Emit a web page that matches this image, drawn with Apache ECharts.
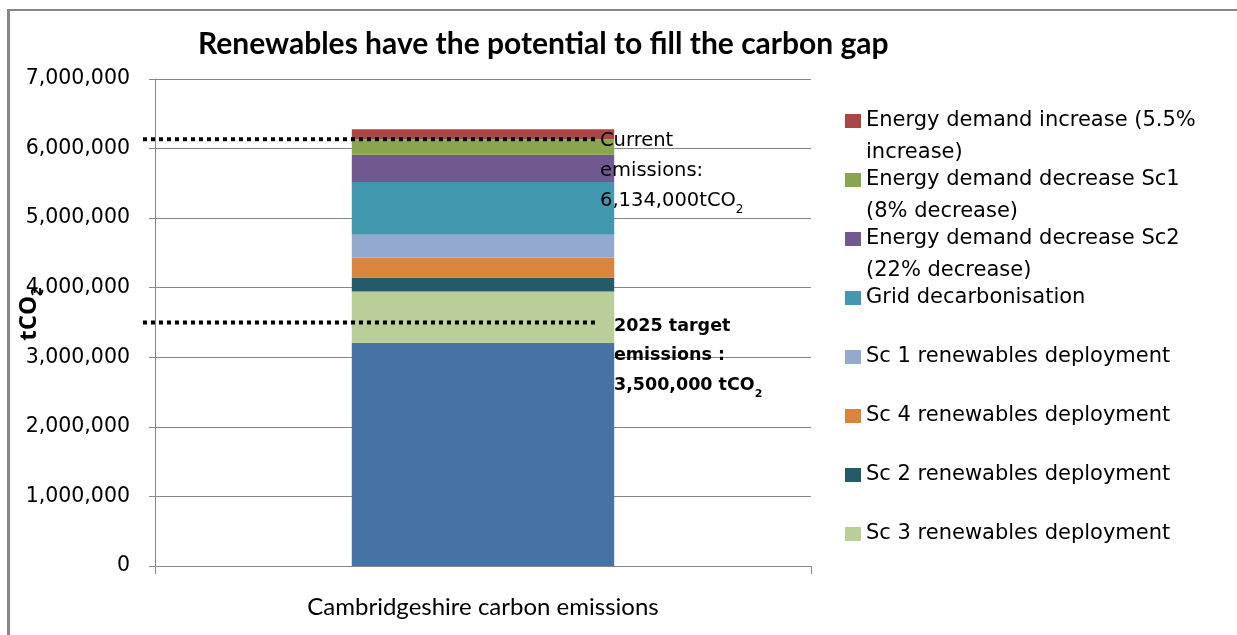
<!DOCTYPE html>
<html>
<head>
<meta charset="utf-8">
<title>Renewables have the potential to fill the carbon gap</title>
<script src="https://cdn.jsdelivr.net/npm/echarts@6/dist/echarts.min.js"></script>
<style>
  html, body { margin: 0; padding: 0; background: #ffffff; }
  #chart { width: 1237px; height: 635px; }
</style>
</head>
<body>
<div id="chart"></div>
<script>
// ---- data -------------------------------------------------------------
const categories = ['Cambridgeshire carbon emissions'];

// stacked segments, bottom to top (tCO2)
const baseEmissions      = [3210000];
const sc3Renewables      = [735000];
const sc2Renewables      = [200000];
const sc4Renewables      = [290000];
const sc1Renewables      = [325000];
const gridDecarbonisation = [760000];
const demandDecreaseSc2  = [390000];
const demandDecreaseSc1  = [224000];
const demandIncrease     = [145000];

// reference levels
const currentEmissions = 6134000;
const targetEmissions  = 3500000;

// value axis
const yMin = 0;
const yMax = 7000000;
const yStep = 1000000;

// series names (legend order, top to bottom)
const seriesNames = [
  'Energy demand increase (5.5% increase)',
  'Energy demand decrease Sc1 (8% decrease)',
  'Energy demand decrease Sc2 (22% decrease)',
  'Grid decarbonisation',
  'Sc 1 renewables deployment',
  'Sc 4 renewables deployment',
  'Sc 2 renewables deployment',
  'Sc 3 renewables deployment'
];
// how each legend entry wraps
const legendText = {
  'Energy demand increase (5.5% increase)': 'Energy demand increase (5.5%\nincrease)',
  'Energy demand decrease Sc1 (8% decrease)': 'Energy demand decrease Sc1\n(8% decrease)',
  'Energy demand decrease Sc2 (22% decrease)': 'Energy demand decrease Sc2\n(22% decrease)'
};

// ---- styling ----------------------------------------------------------
const colors = {
  base: '#4672A6',
  sc3: '#BACF97',
  sc2: '#245B6B',
  sc4: '#DB843E',
  sc1: '#93A9CF',
  grid: '#4198AF',
  dSc2: '#71598F',
  dSc1: '#89A54E',
  dInc: '#AA4643'
};
const axisGrey = '#868686';

// stack from bottom to top
const stackDefs = [
  { name: 'Base emissions', data: baseEmissions, color: colors.base },
  { name: seriesNames[7], data: sc3Renewables, color: colors.sc3 },
  { name: seriesNames[6], data: sc2Renewables, color: colors.sc2 },
  { name: seriesNames[5], data: sc4Renewables, color: colors.sc4 },
  { name: seriesNames[4], data: sc1Renewables, color: colors.sc1 },
  { name: seriesNames[3], data: gridDecarbonisation, color: colors.grid },
  { name: seriesNames[2], data: demandDecreaseSc2, color: colors.dSc2 },
  { name: seriesNames[1], data: demandDecreaseSc1, color: colors.dSc1 },
  { name: seriesNames[0], data: demandIncrease, color: colors.dInc }
];

const series = stackDefs.map(d => ({
  name: d.name,
  type: 'bar',
  stack: 'total',
  barWidth: '40%',
  data: d.data,
  itemStyle: { color: d.color },
  emphasis: { disabled: true }
}));

// legend keys: a square sitting on the first text line of a two-line slot
const LINE_H = 31.7;
const legendIcon = 'path://M0,0 L0,0 M0,9 L16,9 L16,23 L0,23 Z M16,63.4 L16,63.4';

const chart = echarts.init(document.getElementById('chart'), null, { renderer: 'canvas' });

chart.setOption({
  animation: false,
  backgroundColor: '#ffffff',
  title: {
    text: 'Renewables have the potential to fill the carbon gap',
    left: 198,
    top: 29,
    padding: 0,
    textStyle: { fontFamily: 'Lato', fontWeight: 'bold', fontSize: 30, color: '#000000' }
  },
  grid: { left: 155, right: 426, top: 79, bottom: 69, containLabel: false },
  legend: {
    orient: 'vertical',
    left: 845,
    top: 105,
    padding: 0,
    itemWidth: 16,
    itemHeight: 2 * LINE_H,
    itemGap: 59 - 2 * LINE_H,
    icon: legendIcon,
    selectedMode: false,
    data: seriesNames,
    formatter: name => (legendText[name] || name + '\n '),
    textStyle: { fontFamily: 'DejaVu Sans', fontSize: 21, lineHeight: LINE_H, color: '#000000' }
  },
  xAxis: {
    type: 'category',
    data: categories,
    axisLine: { show: true, lineStyle: { color: axisGrey, width: 1 } },
    axisTick: { show: true, length: 8, lineStyle: { color: axisGrey } },
    axisLabel: { fontFamily: 'Lato', fontSize: 24, color: '#000000', margin: 29 }
  },
  yAxis: {
    type: 'value',
    min: yMin,
    max: yMax,
    interval: yStep,
    axisLine: { show: true, lineStyle: { color: axisGrey, width: 1 } },
    axisTick: { show: true, length: 6, lineStyle: { color: axisGrey } },
    splitLine: { show: true, lineStyle: { color: axisGrey, width: 1 } },
    axisLabel: {
      fontFamily: 'DejaVu Sans',
      fontSize: 20.5,
      color: '#000000',
      margin: 25,
      formatter: v => v.toLocaleString('en-US')
    }
  },
  series: series
});

// reference lines and their notes, placed on the value axis
const yCurrent = chart.convertToPixel({ yAxisIndex: 0 }, currentEmissions);
const yTarget = chart.convertToPixel({ yAxisIndex: 0 }, targetEmissions);
const dotStyle = { stroke: '#000000', lineWidth: 4, lineDash: [4, 4], lineCap: 'butt' };

const noteRich = (font, weight, size, lh) => ({
  r: { fontFamily: font, fontWeight: weight, fontSize: size, lineHeight: lh, fill: '#000000' },
  s: { fontFamily: font, fontWeight: weight, fontSize: Math.round(size * 0.62), lineHeight: lh,
       verticalAlign: 'bottom', fill: '#000000' }
});

chart.setOption({
  graphic: [
    // chart area frame (top and left edges)
    { type: 'line', id: 'frameTop', silent: true,
      shape: { x1: 7, y1: 10, x2: 1237, y2: 10 },
      style: { stroke: '#878787', lineWidth: 2 } },
    { type: 'line', id: 'frameLeft', silent: true,
      shape: { x1: 8.5, y1: 9, x2: 8.5, y2: 635 },
      style: { stroke: '#878787', lineWidth: 3 } },
    // current emissions level
    { type: 'line', id: 'currentLine', silent: true, z: 100,
      shape: { x1: 143, y1: yCurrent, x2: 599, y2: yCurrent },
      style: dotStyle },
    // 2025 target level
    { type: 'line', id: 'targetLine', silent: true, z: 100,
      shape: { x1: 143, y1: yTarget, x2: 595, y2: yTarget },
      style: dotStyle },
    { type: 'text', id: 'currentNote', silent: true, z: 101,
      x: 600, y: 126,
      style: {
        text: '{r|Current}\n{r|emissions:}\n{r|6,134,000tCO}{s|2}',
        rich: noteRich('DejaVu Sans', 'normal', 19.5, 30),
        verticalAlign: 'top', align: 'left'
      } },
    { type: 'text', id: 'targetNote', silent: true, z: 101,
      x: 614, y: 312,
      style: {
        text: '{r|2025 target}\n{r|emissions :}\n{r|3,500,000 tCO}{s|2}',
        rich: noteRich('DejaVu Sans', 'bold', 17.5, 29.3),
        verticalAlign: 'top', align: 'left'
      } },
    // value axis title
    { type: 'text', id: 'yTitle', silent: true, z: 101,
      x: 29, y: 314, rotation: Math.PI / 2,
      style: {
        text: '{r|tCO}{s|2}',
        rich: {
          r: { fontFamily: 'Open Sans', fontWeight: 'bold', fontSize: 24, lineHeight: 30, fill: '#000000' },
          s: { fontFamily: 'Open Sans', fontWeight: 'bold', fontSize: 15, lineHeight: 15,
               verticalAlign: 'bottom', fill: '#000000' }
        },
        align: 'center', verticalAlign: 'middle'
      } }
  ]
});
</script>
</body>
</html>
